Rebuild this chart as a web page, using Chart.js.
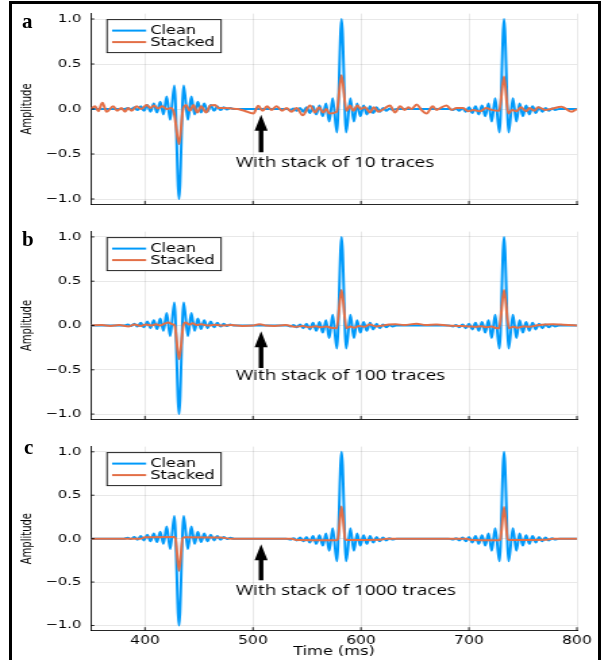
<!DOCTYPE html>
<html>
<head>
<meta charset="utf-8">
<script src="https://cdn.jsdelivr.net/npm/chart.js@4.4.1/dist/chart.umd.min.js"></script>
<style>
  body { margin: 0; background: #fff; width: 608px; height: 660px; overflow: hidden; position: relative; }
  canvas.panel { position: absolute; left: 0; transform-origin: 0 0; }
  #frame { position: absolute; left: 9px; top: 1px; width: 586px; height: 700px; border: 3px solid #000; }
  .letter { position: absolute; font: bold 21px "Liberation Serif", serif; line-height: 1; }
</style>
</head>
<body>
<canvas id="pa" class="panel" width="450" height="218"></canvas>
<canvas id="pb" class="panel" width="450" height="215"></canvas>
<canvas id="pc" class="panel" width="450" height="227"></canvas>
<div id="frame"></div>
<div class="letter" style="left:22px;top:11px">a</div>
<div class="letter" style="left:22px;top:229px">b</div>
<div class="letter" style="left:24px;top:437px">c</div>
<script>
// the figure was drawn narrow and then stretched sideways
var S = 608 / 450;

var TIME_TICKS = [400, 500, 600, 700, 800];
var AMP_TICKS = [-1, -0.5, 0, 0.5, 1];
var SERIES_NAMES = ['Clean', 'Stacked'];

// clean trace, [time ms, amplitude]
var CLEAN = [
  [350, 0], [380.5, 0],
  [384.1, 0.01], [387.1, -0.005], [390.1, 0.02], [393.1, -0.012], [396.1, 0.03], [399.1, -0.02],
  [402.1, 0.045], [405.1, -0.03], [408.1, 0.06], [411.1, -0.04], [414.1, 0.08], [417.1, -0.06],
  [420.1, 0.14], [423.3, -0.12], [427.2, 0.26], [431.5, -1.0], [435.8, 0.26], [439.7, -0.12],
  [442.9, 0.14], [445.9, -0.06], [448.9, 0.08], [451.9, -0.04], [454.9, 0.06], [457.9, -0.03],
  [460.9, 0.045], [463.9, -0.02], [466.9, 0.03], [469.9, -0.012], [472.9, 0.02], [475.9, -0.005],
  [478.9, 0.01], [482.5, 0],
  [531, 0],
  [534.6, -0.01], [537.6, 0.005], [540.6, -0.02], [543.6, 0.012], [546.6, -0.03], [549.6, 0.02],
  [552.6, -0.045], [555.6, 0.03], [558.6, -0.06], [561.6, 0.04], [564.6, -0.08], [567.6, 0.06],
  [570.6, -0.14], [573.8, 0.12], [577.7, -0.26], [582, 1.0], [586.3, -0.26], [590.2, 0.12],
  [593.4, -0.14], [596.4, 0.06], [599.4, -0.08], [602.4, 0.04], [605.4, -0.06], [608.4, 0.03],
  [611.4, -0.045], [614.4, 0.02], [617.4, -0.03], [620.4, 0.012], [623.4, -0.02], [626.4, 0.005],
  [629.4, -0.01], [633, 0],
  [681.5, 0],
  [685.1, -0.01], [688.1, 0.005], [691.1, -0.02], [694.1, 0.012], [697.1, -0.03], [700.1, 0.02],
  [703.1, -0.045], [706.1, 0.03], [709.1, -0.06], [712.1, 0.04], [715.1, -0.08], [718.1, 0.06],
  [721.1, -0.14], [724.3, 0.12], [728.2, -0.26], [732.5, 1.0], [736.8, -0.26], [740.7, 0.12],
  [743.9, -0.14], [746.9, 0.06], [749.9, -0.08], [752.9, 0.04], [755.9, -0.06], [758.9, 0.03],
  [761.9, -0.045], [764.9, 0.02], [767.9, -0.03], [770.9, 0.012], [773.9, -0.02], [776.9, 0.005],
  [779.9, -0.01], [783.5, 0], [800, 0]
];

// stack of 10 traces
var STACK_10 = [
  [350, 0], [353.7, 0.03], [356.8, -0.025], [360.5, 0.07], [364.5, -0.03], [370.6, 0.03],
  [374.3, -0.02], [378, 0.01], [381.5, -0.03], [384.5, 0.01], [387.6, -0.02], [392.2, 0.03],
  [396.5, 0], [401.5, 0.045], [405, 0.01], [408.3, 0.04], [412, 0.005], [416, 0.03], [420, 0],
  [424, 0.01], [427, -0.05], [431.5, -0.39], [435, -0.02], [438, 0.045], [441.5, -0.02],
  [444.8, 0.045], [448.4, -0.04], [452, 0.03], [456.5, -0.04], [460.5, 0.04], [464.8, 0.045],
  [468, 0.01], [474, 0.01], [480, 0.005], [486, 0], [492, -0.02], [500.3, -0.05], [504.9, 0.035],
  [508.9, -0.02], [513, 0.03], [517, -0.01], [521.9, 0.03], [527, -0.02], [531, 0.01],
  [535.6, -0.03], [540.4, 0.01], [546, -0.07], [552.8, 0.04], [557.4, -0.04], [561.1, 0.02],
  [565, -0.04], [568, 0], [570.7, -0.05], [577.5, -0.03], [582, 0.376], [586.5, -0.02],
  [589.8, 0.04], [593, -0.02], [596.6, 0.04], [600, 0], [603.7, 0.02], [608.3, -0.04],
  [612, 0.02], [616, -0.03], [621, 0], [626.9, 0.04], [631.5, -0.04], [636.1, 0.03],
  [640.7, -0.01], [643.8, 0.02], [646.9, 0], [651.6, 0.05], [656, -0.01], [660.8, -0.05],
  [666.4, 0.03], [670, -0.01], [673.5, 0.01], [679.3, 0.04], [684, -0.01], [688.5, 0.01],
  [694.5, 0.01], [699.3, -0.025], [704, -0.01], [710, -0.025], [716, 0.01], [721, -0.01],
  [728, -0.02], [732.5, 0.36], [736.4, -0.05], [740, -0.01], [744, -0.025], [748, 0.02],
  [753, -0.025], [756, 0.01], [760.5, -0.02], [764, 0.02], [770.7, -0.01], [776, 0],
  [785.8, 0.025], [795, -0.03], [800, 0]
];

// stack of 100 traces
var STACK_100 = [
  [350, 0], [360, 0.005], [368, -0.005], [376, 0.005], [385, -0.01], [390, 0.01], [396, -0.005],
  [401, 0.012], [406, 0], [410, 0.015], [414, 0], [418, 0.02], [421.6, 0.035], [425, 0.015],
  [427.5, 0], [431.5, -0.38], [435.5, 0], [437.5, 0.035], [441, 0.01], [444, 0.025], [448, 0.005],
  [452, 0.015], [458, 0], [465, 0.008], [472, 0], [480, 0.005], [490, -0.005], [500, 0],
  [506, 0.015], [512, 0], [520, -0.005], [530, 0.005], [540, -0.015], [546, -0.005], [552, -0.02],
  [558, -0.008], [563, -0.02], [568, -0.01], [572, -0.025], [577.5, -0.03], [582, 0.4],
  [586.5, -0.03], [590, -0.01], [594, -0.025], [598, -0.005], [603, -0.015], [608, 0.01],
  [614, -0.01], [620, 0], [626, 0.01], [632, 0.015], [640, 0.005], [651.5, 0.02], [660, 0.005],
  [670, 0.01], [680, 0], [690, -0.005], [700, -0.01], [706, -0.015], [712, -0.008], [716, -0.02],
  [721, -0.01], [724, -0.025], [728, -0.03], [732.5, 0.4], [737, -0.03], [741, -0.015],
  [745, -0.025], [750, -0.01], [756, -0.015], [762, 0], [770, 0.01], [778, 0.015], [785, 0.01],
  [792, 0.005], [800, 0]
];

// stack of 1000 traces
var STACK_1000 = [
  [350, 0], [396, 0], [400, 0.015], [426.5, 0.018], [428, 0.01], [431.5, -0.37], [435, 0.01],
  [437, 0.015], [470, 0.012], [480, 0], [536, 0], [540, -0.015], [577, -0.018], [578.5, -0.01],
  [582, 0.37], [585.5, -0.01], [587, -0.015], [618, -0.012], [624, 0], [698, 0], [702, -0.015],
  [727.5, -0.018], [729, -0.01], [732.5, 0.365], [736, -0.01], [738, -0.015], [772, -0.012],
  [778, 0], [800, 0]
];

var NOTES = ['With stack of 10 traces', 'With stack of 100 traces', 'With stack of 1000 traces'];

var BLUE = 'rgb(0,154,250)';
var ORANGE = 'rgb(227,111,71)';
var GRID = 'rgba(0,0,0,0.09)';
var AXIS = 'rgba(0,0,0,0.85)';

Chart.defaults.font.family = '"DejaVu Sans", sans-serif';
Chart.defaults.color = '#000';

function ampLabel(v) {
  return (v < 0 ? '\u2212' : '') + Math.abs(v).toFixed(1);
}
function toXY(pts) {
  return pts.map(function (p) { return { x: p[0], y: p[1] }; });
}

var extras = {
  id: 'extras',
  afterDatasetsDraw: function (chart, args, o) {
    var ctx = chart.ctx, ca = chart.chartArea;
    var xs = chart.scales.x, ys = chart.scales.y;
    ctx.save();
    // short ticks pointing into the plot
    ctx.strokeStyle = AXIS;
    ctx.lineWidth = 1;
    ctx.beginPath();
    TIME_TICKS.forEach(function (t) {
      var px = xs.getPixelForValue(t);
      ctx.moveTo(px, ca.bottom); ctx.lineTo(px, ca.bottom - 3.5);
    });
    AMP_TICKS.forEach(function (a) {
      var py = ys.getPixelForValue(a);
      ctx.moveTo(ca.left, py); ctx.lineTo(ca.left + 2.5, py);
    });
    ctx.stroke();

    // legend
    var bx = ca.left + 11.9, by = ca.top + 6, bw = 84.4, bh = 33;
    ctx.fillStyle = '#fff';
    ctx.fillRect(bx, by, bw, bh);
    ctx.strokeStyle = '#222';
    ctx.strokeRect(bx, by, bw, bh);
    ctx.font = '12px "DejaVu Sans"';
    ctx.textBaseline = 'middle';
    ctx.textAlign = 'left';
    chart.data.datasets.forEach(function (ds, i) {
      var ly = by + 11 + i * 11.5;
      ctx.strokeStyle = ds.borderColor;
      ctx.lineWidth = 2;
      ctx.beginPath(); ctx.moveTo(bx + 3.7, ly); ctx.lineTo(bx + 28.9, ly); ctx.stroke();
      ctx.fillStyle = '#000';
      ctx.fillText(ds.label, bx + 31.9, ly + 0.5);
    });

    // arrow and note
    var ax = xs.getPixelForValue(o.arrowX);
    var tip = ys.getPixelForValue(o.arrowTip);
    var end = ys.getPixelForValue(o.arrowEnd);
    var hw = 6.5 / S, sw = 2.3 / S, hl = 16;
    ctx.fillStyle = '#000';
    ctx.beginPath();
    ctx.moveTo(ax, tip);
    ctx.lineTo(ax + hw, tip + hl);
    ctx.lineTo(ax + sw, tip + hl);
    ctx.lineTo(ax + sw, end);
    ctx.lineTo(ax - sw, end);
    ctx.lineTo(ax - sw, tip + hl);
    ctx.lineTo(ax - hw, tip + hl);
    ctx.closePath();
    ctx.fill();
    ctx.font = '14px "Open Sans"';
    ctx.fillText(o.note, xs.getPixelForValue(o.noteX), ys.getPixelForValue(o.noteY));
    ctx.restore();
  }
};

var PANELS = [
  { id: 'pa', top: 0, height: 218, padTop: 13.3, axisH: 8.7, showX: false, stack: STACK_10, noteY: -0.6 },
  { id: 'pb', top: 218, height: 215, padTop: 10.4, axisH: 6.7, showX: false, stack: STACK_100, noteY: -0.565 },
  { id: 'pc', top: 433, height: 227, padTop: 11, axisH: 29.3, showX: true, stack: STACK_1000, noteY: -0.6 }
];

PANELS.forEach(function (p, i) {
  var cv = document.getElementById(p.id);
  cv.style.top = p.top + 'px';
  cv.style.transform = 'scaleX(' + S + ')';
  new Chart(cv, {
    type: 'line',
    data: {
      datasets: [
        // lower order is painted last, so the stacked trace sits on top
        { label: SERIES_NAMES[0], data: toXY(CLEAN), borderColor: BLUE, borderWidth: 2, order: 1 },
        { label: SERIES_NAMES[1], data: toXY(p.stack), borderColor: ORANGE, borderWidth: 2, order: 0 }
      ]
    },
    options: {
      responsive: false,
      animation: false,
      events: [],
      elements: {
        point: { radius: 0 },
        line: { cubicInterpolationMode: 'monotone', borderJoinStyle: 'round', fill: false }
      },
      layout: { padding: { top: p.padTop, right: 23, left: 0, bottom: 0 } },
      plugins: {
        legend: { display: false },
        tooltip: { enabled: false },
        extras: {
          arrowX: 507.5, arrowTip: -0.065, arrowEnd: -0.48,
          note: NOTES[i], noteX: 484, noteY: p.noteY
        }
      },
      scales: {
        x: {
          type: 'linear', min: 350, max: 800,
          afterBuildTicks: function (s) { s.ticks = TIME_TICKS.map(function (v) { return { value: v }; }); },
          afterFit: function (s) { s.height = p.axisH; },
          grid: { color: GRID, lineWidth: 1, drawTicks: false },
          border: { display: true, color: AXIS, width: 1 },
          ticks: { display: p.showX, padding: 3, maxRotation: 0, autoSkip: false, font: { size: 11.5 },
                   callback: function (v) { return String(v); } },
          title: { display: p.showX, text: 'Time (ms)', font: { size: 12 }, padding: { top: 0, bottom: 1 } }
        },
        y: {
          min: -1.06, max: 1.06,
          afterBuildTicks: function (s) { s.ticks = AMP_TICKS.map(function (v) { return { value: v }; }); },
          afterFit: function (s) { s.width = 91 / S; },
          grid: { color: GRID, lineWidth: 1, drawTicks: false },
          border: { display: true, color: AXIS, width: 1 },
          ticks: { padding: 7, font: { size: 11 }, callback: ampLabel },
          title: { display: true, text: 'Amplitude', font: { size: 10 }, padding: { top: 14, bottom: 0 } }
        }
      }
    },
    plugins: [extras]
  });
});
</script>
</body>
</html>
